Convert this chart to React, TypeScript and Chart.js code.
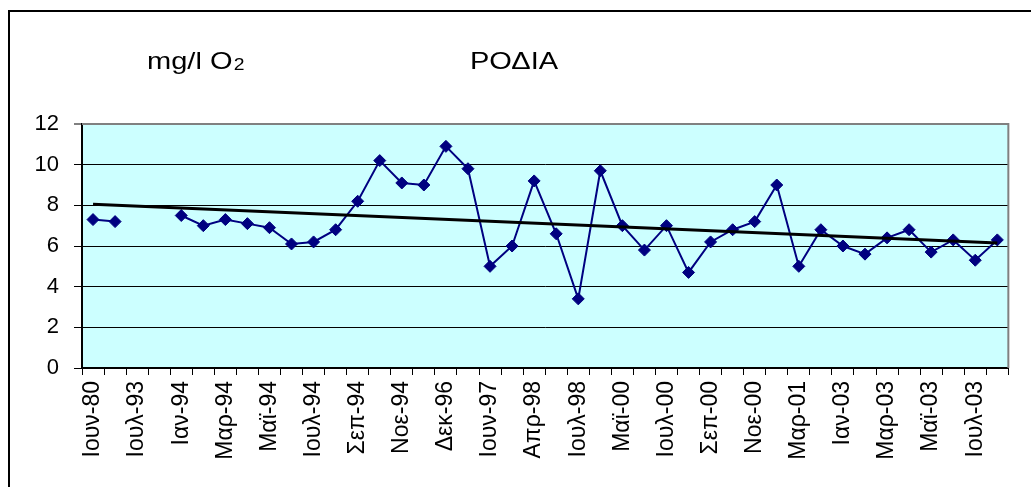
import React, { useEffect, useRef } from "react";
import { Chart, registerables } from "chart.js";

Chart.register(...registerables);

// Labels shown under every other category (odd categories carry no visible label)
const shownLabels: string[] = [
  "Ιουν-80", "Ιουλ-93", "Ιαν-94", "Μαρ-94", "Μαϊ-94", "Ιουλ-94", "Σεπ-94",
  "Νοε-94", "Δεκ-96", "Ιουν-97", "Απρ-98", "Ιουλ-98", "Μαϊ-00", "Ιουλ-00",
  "Σεπ-00", "Νοε-00", "Μαρ-01", "Ιαν-03", "Μαρ-03", "Μαϊ-03", "Ιουλ-03",
];

const categories: string[] = [];
shownLabels.forEach((l) => {
  categories.push(l);
  categories.push("");
});

// Dissolved oxygen, mg/l O2 (null = no measurement)
const oxygen: (number | null)[] = [
  7.3, 7.2, null, null, 7.5, 7.0, 7.3, 7.1, 6.9, 6.1,
  6.2, 6.8, 8.2, 10.2, 9.1, 9.0, 10.9, 9.8, 5.0, 6.0,
  9.2, 6.6, 3.4, 9.7, 7.0, 5.8, 7.0, 4.7, 6.2, 6.8,
  7.2, 9.0, 5.0, 6.8, 6.0, 5.6, 6.4, 6.8, 5.7, 6.3,
  5.3, 6.3,
];

// Linear trend line end values
const trendStart = 8.05;
const trendEnd = 6.15;

const yTicks = { min: 0, max: 12, step: 2 };

const titleLeft = "mg/l O";
const titleLeftSub = "2";
const titleMain = "ΡΟΔΙΑ";

export default function App() {
  const ref = useRef<HTMLCanvasElement | null>(null);

  useEffect(() => {
    const canvas = ref.current;
    if (!canvas) return;

    const trend: (number | null)[] = categories.map((_, i) =>
      i === 0 ? trendStart : i === categories.length - 1 ? trendEnd : null
    );

    const decor = {
      id: "decor",
      beforeDraw(chart: any) {
        const { ctx, chartArea: a } = chart;
        ctx.save();
        ctx.fillStyle = "#ffffff";
        ctx.fillRect(0, 0, chart.width, chart.height);
        ctx.fillStyle = "#CCFFFF";
        ctx.fillRect(a.left, a.top, a.right - a.left, a.bottom - a.top);
        ctx.restore();
      },
      afterDraw(chart: any) {
        const { ctx, chartArea: a } = chart;
        ctx.save();
        // plot area border top/right (gray)
        ctx.strokeStyle = "#808080";
        ctx.lineWidth = 2;
        ctx.beginPath();
        ctx.moveTo(a.left, a.top);
        ctx.lineTo(a.right, a.top);
        ctx.lineTo(a.right, a.bottom);
        ctx.stroke();
        // outer chart border
        ctx.strokeStyle = "#000000";
        ctx.lineWidth = 2;
        ctx.beginPath();
        ctx.moveTo(9, chart.height + 2);
        ctx.lineTo(9, 11);
        ctx.lineTo(chart.width + 2, 11);
        ctx.stroke();
        ctx.restore();

        // titles (slightly wide lettering, as in the original)
        const sx = 1.21;
        ctx.save();
        ctx.fillStyle = "#000000";
        ctx.textBaseline = "alphabetic";
        ctx.textAlign = "left";
        ctx.translate(147, 69);
        ctx.scale(sx, 1);
        ctx.font = '24px "Liberation Sans", Arial, sans-serif';
        ctx.fillText(titleLeft, 0, 0);
        const w = ctx.measureText(titleLeft).width;
        ctx.font = '16px "Liberation Sans", Arial, sans-serif';
        ctx.fillText(titleLeftSub, w + 1, 1);
        ctx.restore();

        ctx.save();
        ctx.fillStyle = "#000000";
        ctx.textBaseline = "alphabetic";
        ctx.textAlign = "left";
        ctx.translate(470, 69);
        ctx.scale(sx, 1);
        ctx.font = '24px "Liberation Sans", Arial, sans-serif';
        ctx.fillText(titleMain, 0, 0);
        ctx.restore();
      },
    };

    const chart = new Chart(canvas, {
      type: "line",
      data: {
        labels: categories,
        datasets: [
          {
            label: "trend",
            data: trend,
            borderColor: "#000000",
            borderWidth: 3,
            pointRadius: 0,
            spanGaps: true,
            fill: false,
            order: 0,
          },
          {
            label: "O2",
            data: oxygen,
            borderColor: "#000080",
            backgroundColor: "#000080",
            borderWidth: 2,
            pointStyle: "rectRot",
            pointRadius: 6,
            pointBorderWidth: 1,
            pointBackgroundColor: "#000080",
            pointBorderColor: "#000080",
            spanGaps: false,
            fill: false,
            order: 1,
          },
        ],
      },
      options: {
        animation: false,
        responsive: false,
        maintainAspectRatio: false,
        layout: { padding: { left: 0, top: 124, right: 4, bottom: 0 } },
        plugins: {
          legend: { display: false },
          tooltip: { enabled: false },
          title: { display: false },
        },
        scales: {
          x: {
            offset: true,
            grid: {
              offset: true,
              drawOnChartArea: false,
              drawTicks: true,
              tickLength: 7,
              color: "#000000",
              lineWidth: 1,
            },
            border: { color: "#000000", width: 2 },
            ticks: {
              autoSkip: false,
              maxRotation: 90,
              minRotation: 90,
              padding: 6,
              color: "#000000",
              font: { family: '"Liberation Sans", Arial, sans-serif', size: 23 },
              callback: (_v: any, i: number) => categories[i],
            },
            afterFit: (s: any) => {
              s.height = 119;
            },
          },
          y: {
            min: yTicks.min,
            max: yTicks.max,
            grid: {
              color: (c: any) => (c.tick && c.tick.value === yTicks.max ? "#808080" : "#000000"),
              lineWidth: (c: any) => (c.tick && c.tick.value === yTicks.max ? 2 : 1),
              tickLength: 8,
              drawTicks: true,
            },
            border: { color: "#000000", width: 2 },
            ticks: {
              stepSize: yTicks.step,
              padding: 15,
              color: "#000000",
              font: { family: '"Liberation Sans", Arial, sans-serif', size: 22 },
            },
            afterFit: (s: any) => {
              s.width = 82;
            },
          },
        },
      },
      plugins: [decor],
    });

    return () => chart.destroy();
  }, []);

  return (
    <div style={{ position: "absolute", left: 0, top: 0, width: 1031, height: 487 }}>
      <canvas ref={ref} width={1031} height={487} style={{ display: "block" }} />
    </div>
  );
}
